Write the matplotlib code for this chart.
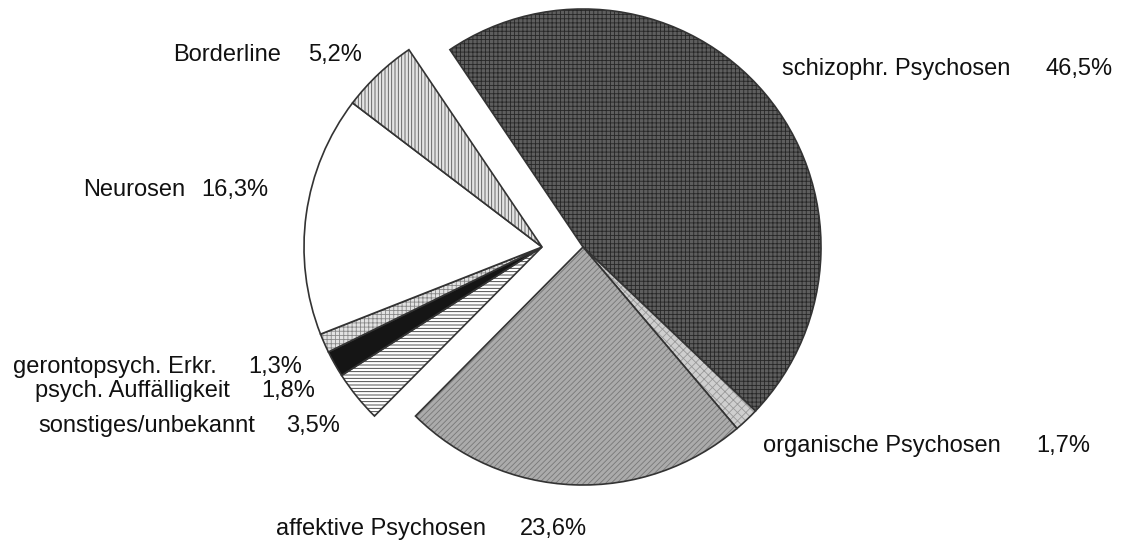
import matplotlib
matplotlib.use('Agg')
import matplotlib.pyplot as plt

# Diagnosegruppen, im Uhrzeigersinn ab ca. 11 Uhr
labels = ['schizophr. Psychosen', 'organische Psychosen', 'affektive Psychosen',
          'sonstiges/unbekannt', 'psych. Auffälligkeit', 'gerontopsych. Erkr.',
          'Neurosen', 'Borderline']
values = [46.5, 1.7, 23.6, 3.5, 1.8, 1.3, 16.3, 5.2]
pct_text = ['46,5%', '1,7%', '23,6%', '3,5%', '1,8%', '1,3%', '16,3%', '5,2%']

# the last five slices are pulled out to the left as one block
left_group = [3, 4, 5, 6, 7]

faces = ['#5e5e5e', '#cfcfcf', '#ababab', '#ffffff', '#151515', '#e2e2e2',
         '#ffffff', '#e4e4e4']
hatches = ['++++', 'xxxx', '//////', '-----', None, '++++', None, '|||||']
hatch_cols = ['#262626', '#999999', '#777777', '#333333', '#151515', '#888888',
              '#ffffff', '#555555']

plt.rcParams['font.family'] = ['Liberation Sans', 'DejaVu Sans']
plt.rcParams['hatch.linewidth'] = 0.6

W, H = 1133, 544
fig = plt.figure(figsize=(W / 100, H / 100), dpi=100)
ax = fig.add_axes([0, 0, 1, 1])

cx, cy, r = 583, 297, 238
shift = 41

wedges, _ = ax.pie(values, startangle=124, counterclock=False,
                   center=(cx, cy), radius=r, frame=True,
                   wedgeprops=dict(edgecolor='#333333', linewidth=1.2))
ax.set_xlim(0, W)
ax.set_ylim(0, H)
ax.set_aspect('equal')
ax.axis('off')

for i, w in enumerate(wedges):
    w.set_facecolor(faces[i])
    if hatches[i]:
        w.set_hatch(hatches[i])
        w._hatch_color = matplotlib.colors.to_rgba(hatch_cols[i])
    if i in left_group:
        w.set_center((cx - shift, cy))

# name left x, percent right x, baseline y (pixels from top)
name_x = [782, 763, 276, 38, 35, 13, 83, 173]
pct_right = [1113, 1090, 587, 340, 315, 302, 268, 362]
base_y = [75, 452, 535, 432, 397, 373, 196, 61]

for i in range(len(labels)):
    ax.text(name_x[i], H - base_y[i], labels[i], fontsize=17,
            ha='left', va='baseline', color='#111111')
    ax.text(pct_right[i], H - base_y[i], pct_text[i], fontsize=17,
            ha='right', va='baseline', color='#111111')

fig.savefig('out.png', dpi=100, facecolor='white')
